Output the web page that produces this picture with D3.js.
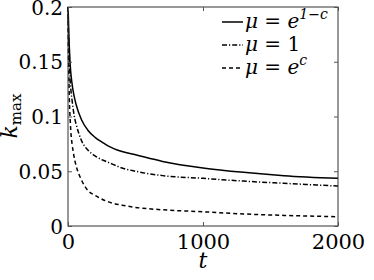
<!DOCTYPE html>
<html>
<head>
<meta charset="utf-8">
<script src="https://cdn.jsdelivr.net/npm/d3@7"></script>
<style>
  body { margin: 0; background: #fff; }
</style>
</head>
<body>
<div id="chart"></div>
<script>
// values
var tValues = [0, 3, 5, 10, 15, 20, 30, 37, 52, 60, 100, 150, 200, 260, 300, 400, 500, 700, 1000, 1300, 1600, 2000];
var solidValues = [0.2, 0.19, 0.18, 0.163, 0.15, 0.141, 0.13, 0.124, 0.115, 0.111, 0.097, 0.087, 0.081, 0.076, 0.073, 0.068, 0.065, 0.059, 0.053, 0.049, 0.046, 0.0435];
var dashDotValues = [0.2, 0.18, 0.17, 0.148, 0.134, 0.126, 0.115, 0.108, 0.097, 0.093, 0.078, 0.069, 0.064, 0.06, 0.058, 0.053, 0.05, 0.046, 0.0435, 0.041, 0.039, 0.0365];
var dashedValues = [0.2, 0.16, 0.145, 0.115, 0.1, 0.088, 0.075, 0.069, 0.059, 0.055, 0.042, 0.032, 0.028, 0.024, 0.022, 0.019, 0.017, 0.0148, 0.013, 0.011, 0.0097, 0.0085];
var xTicks = [0, 1000, 2000];
var yTicks = [0, 0.05, 0.1, 0.15, 0.2];
var yTickLabels = ["0", "0.05", "0.1", "0.15", "0.2"];

var series = [
  {values: solidValues, dash: null, label: ["e", "1\u2212c"]},
  {values: dashDotValues, dash: "5,2,1.2,2", label: ["1", null]},
  {values: dashedValues, dash: "4,3", label: ["e", "c"]}
];

var serif = "DejaVu Serif";
var width = 374, height = 280;
var margin = {left: 68, right: 36, top: 7, bottom: 54};

var svg = d3.select("#chart").append("svg")
  .attr("width", width)
  .attr("height", height)
  .attr("font-family", serif);

var x = d3.scaleLinear().domain([0, 2000]).range([margin.left, width - margin.right]);
var y = d3.scaleLinear().domain([0, 0.2]).range([height - margin.bottom, margin.top]);

var line = d3.line()
  .x(function(d) { return x(d[0]); })
  .y(function(d) { return y(d[1]); })
  .curve(d3.curveMonotoneX);

series.forEach(function(s) {
  svg.append("path")
    .datum(tValues.map(function(t, i) { return [t, s.values[i]]; }))
    .attr("fill", "none")
    .attr("stroke", "#000")
    .attr("stroke-width", 1.5)
    .attr("stroke-dasharray", s.dash)
    .attr("d", line);
});

// frame and inward ticks on all four sides
var x0 = x.range()[0], x1 = x.range()[1], y0 = y.range()[0], y1 = y.range()[1];
svg.append("rect")
  .attr("x", x0).attr("y", y1)
  .attr("width", x1 - x0).attr("height", y0 - y1)
  .attr("fill", "none").attr("stroke", "#333").attr("stroke-width", 1);

function styleAxis(g, size) {
  g.attr("font-family", serif);
  g.select(".domain").remove();
  g.selectAll("line").attr("stroke", "#555");
  g.selectAll("text").attr("font-family", serif).attr("font-size", size);
}

svg.append("g").attr("transform", "translate(0," + y0 + ")")
  .call(d3.axisBottom(x).tickValues(xTicks).tickSize(-4).tickFormat(d3.format("d")).tickPadding(8))
  .call(function(g) { styleAxis(g, 21); g.selectAll("text").attr("dy", "0.71em"); });
svg.append("g").attr("transform", "translate(0," + y1 + ")")
  .call(d3.axisTop(x).tickValues(xTicks).tickSize(-4).tickFormat(""))
  .call(function(g) { styleAxis(g, 21); });

svg.append("g").attr("transform", "translate(" + x0 + ",0)")
  .call(d3.axisLeft(y).tickValues(yTicks).tickSize(-4).tickPadding(5)
    .tickFormat(function(d, i) { return yTickLabels[i]; }))
  .call(function(g) { styleAxis(g, 20); g.selectAll("text").attr("dy", "0.35em"); });
svg.append("g").attr("transform", "translate(" + x1 + ",0)")
  .call(d3.axisRight(y).tickValues(yTicks).tickSize(-4).tickFormat(""))
  .call(function(g) { styleAxis(g, 20); });

// axis titles
svg.append("text")
  .attr("x", x(1000)).attr("y", 268)
  .attr("text-anchor", "middle")
  .attr("font-size", 22).attr("font-style", "italic")
  .text("t");

var yl = svg.append("text")
  .attr("transform", "translate(17,116) rotate(-90)")
  .attr("text-anchor", "middle")
  .attr("font-size", 22);
yl.append("tspan").attr("font-style", "italic").text("k");
yl.append("tspan").attr("dy", 4).attr("font-size", 15).text("max");

// legend
var legend = svg.append("g");
series.forEach(function(s, i) {
  var ly = 22 + i * 23;
  legend.append("line")
    .attr("x1", 222).attr("x2", 243)
    .attr("y1", ly).attr("y2", ly)
    .attr("stroke", "#000").attr("stroke-width", 1.5)
    .attr("stroke-dasharray", s.dash);
  var t = legend.append("text")
    .attr("x", 245).attr("y", ly + 6)
    .attr("font-size", 20);
  t.append("tspan").attr("font-style", "italic").text("\u03bc");
  t.append("tspan").text(" = ");
  t.append("tspan").attr("font-style", s.label[1] ? "italic" : "normal").text(s.label[0]);
  if (s.label[1]) {
    t.append("tspan").attr("dy", -9).attr("font-size", 14)
      .attr("font-style", "italic").text(s.label[1]);
  }
});
</script>
</body>
</html>
